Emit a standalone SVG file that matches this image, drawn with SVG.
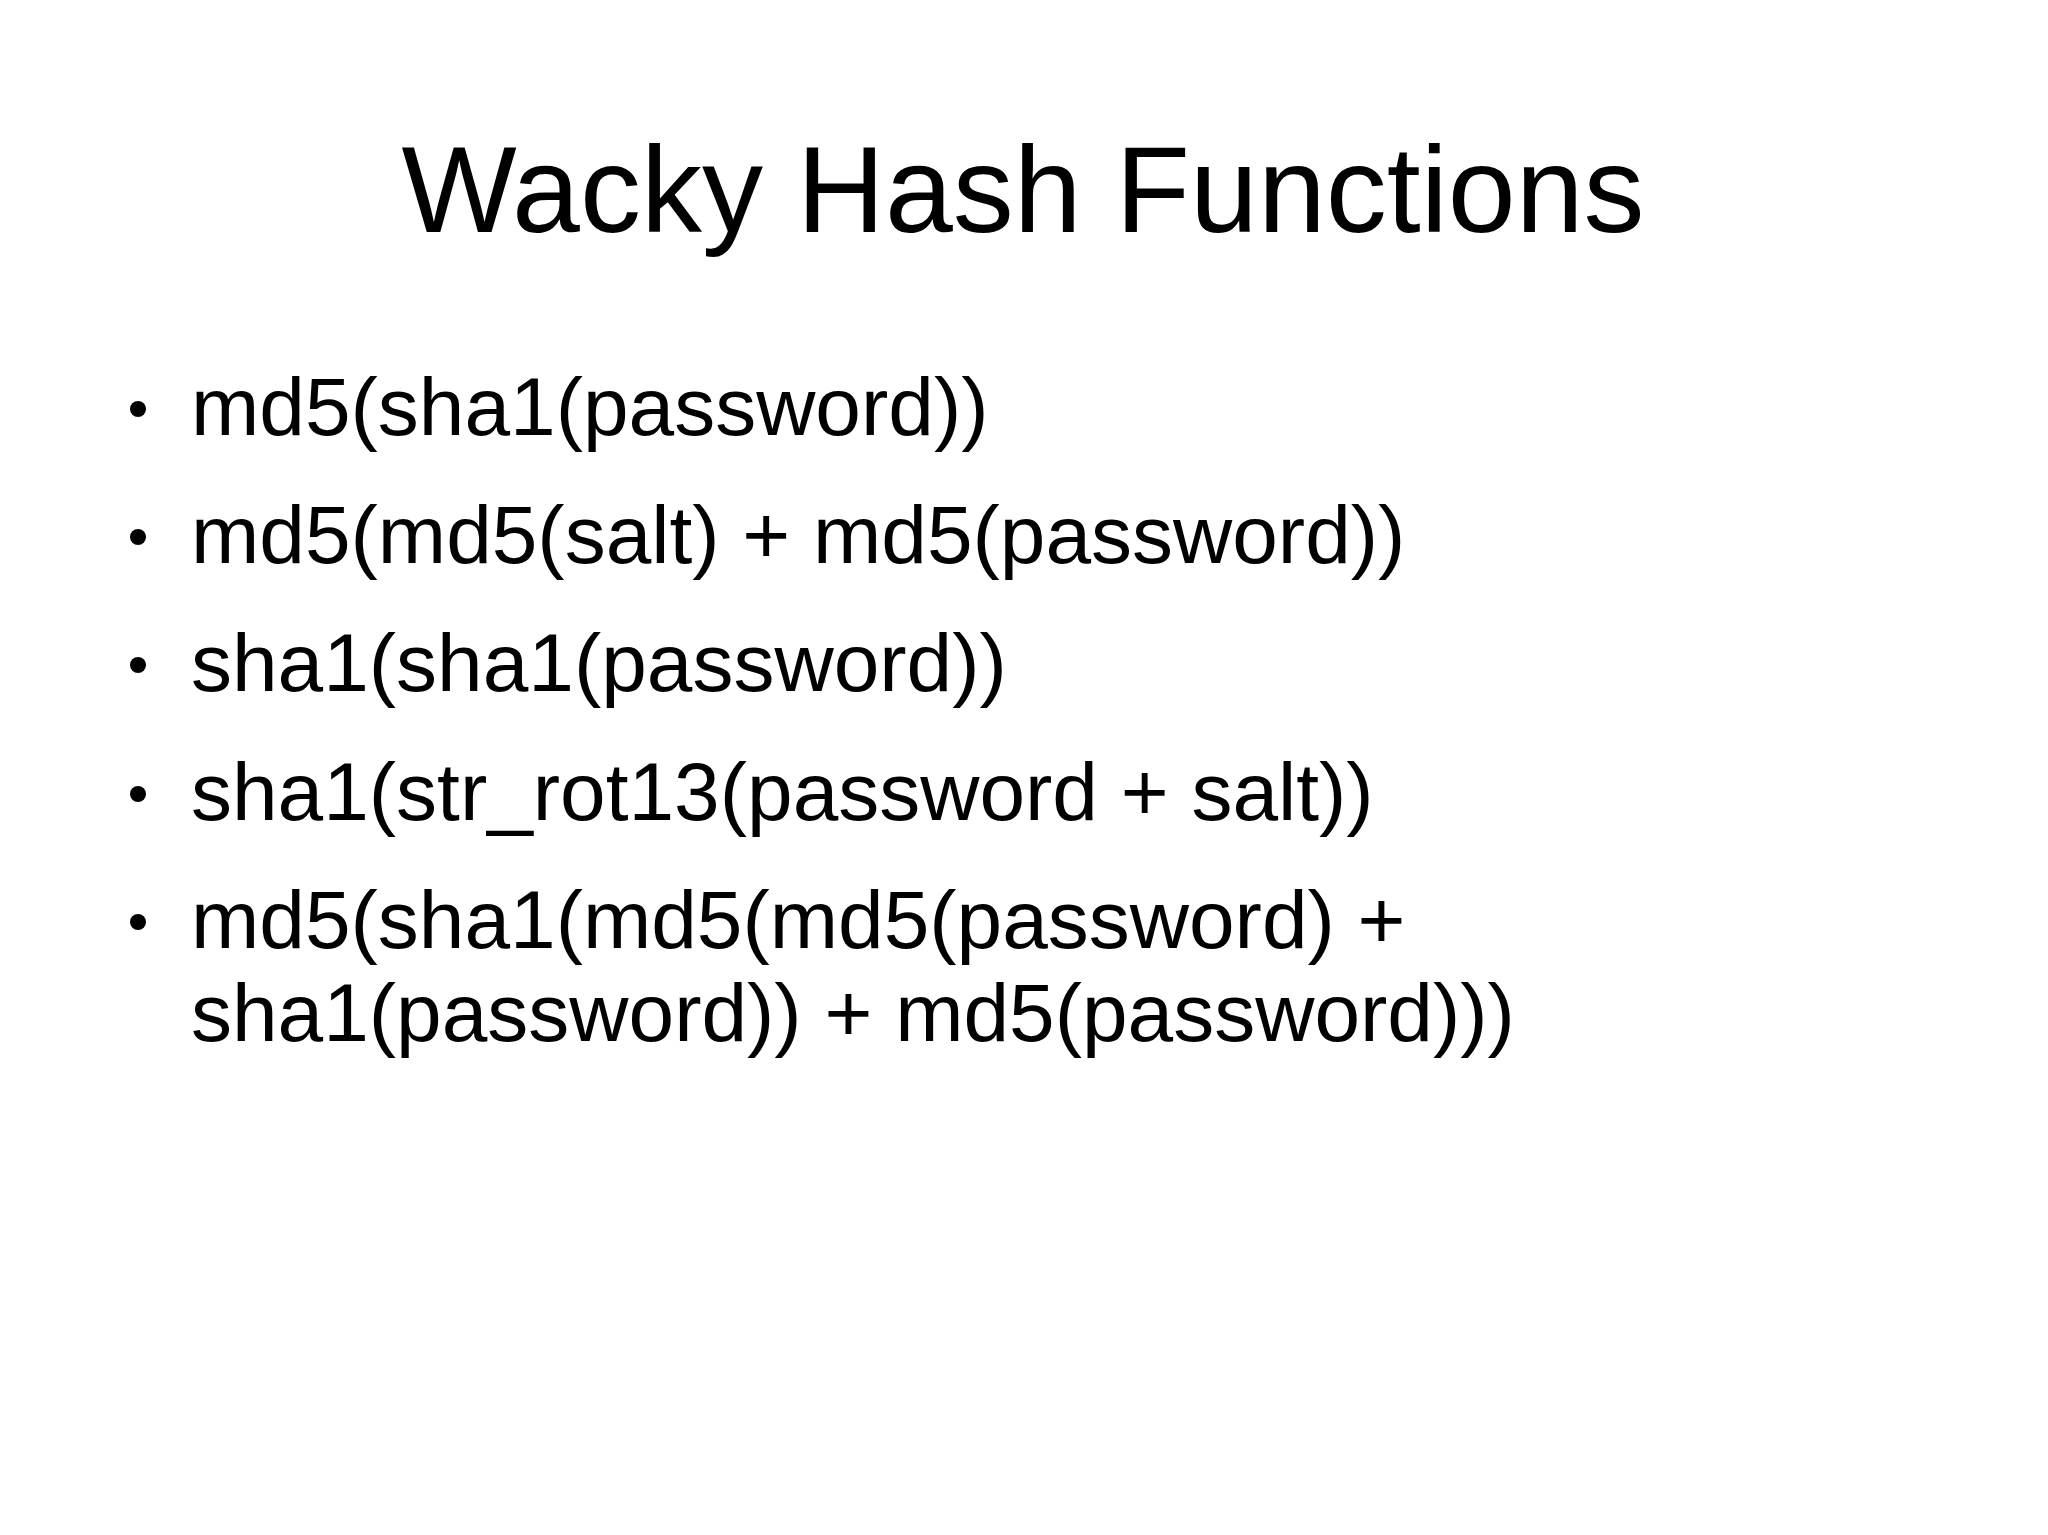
<svg xmlns="http://www.w3.org/2000/svg" width="2048" height="1535" viewBox="0 0 2048 1535">
<style>
text{font-family:"Liberation Sans",Arial,sans-serif;fill:#000}
.t{font-size:122px}
.b{font-size:82px}
</style>
<rect width="2048" height="1535" fill="#fff"/>
<g id="title"><text class="t" x="1023" y="232" text-anchor="middle">Wacky Hash Functions</text></g>
<g id="bullets">
<circle cx="138" cy="409" r="8"/><text class="b" x="191" y="435">md5(sha1(password))</text>
<circle cx="138" cy="537" r="8"/><text class="b" x="191" y="563">md5(md5(salt) + md5(password))</text>
<circle cx="138" cy="665" r="8"/><text class="b" x="191" y="691">sha1(sha1(password))</text>
<circle cx="138" cy="794" r="8"/><text class="b" x="191" y="820">sha1(str_rot13(password + salt))</text>
<circle cx="138" cy="922" r="8"/><text class="b" x="191" y="948">md5(sha1(md5(md5(password) +</text>
<text class="b" x="191" y="1041">sha1(password)) + md5(password)))</text>
</g>
</svg>
